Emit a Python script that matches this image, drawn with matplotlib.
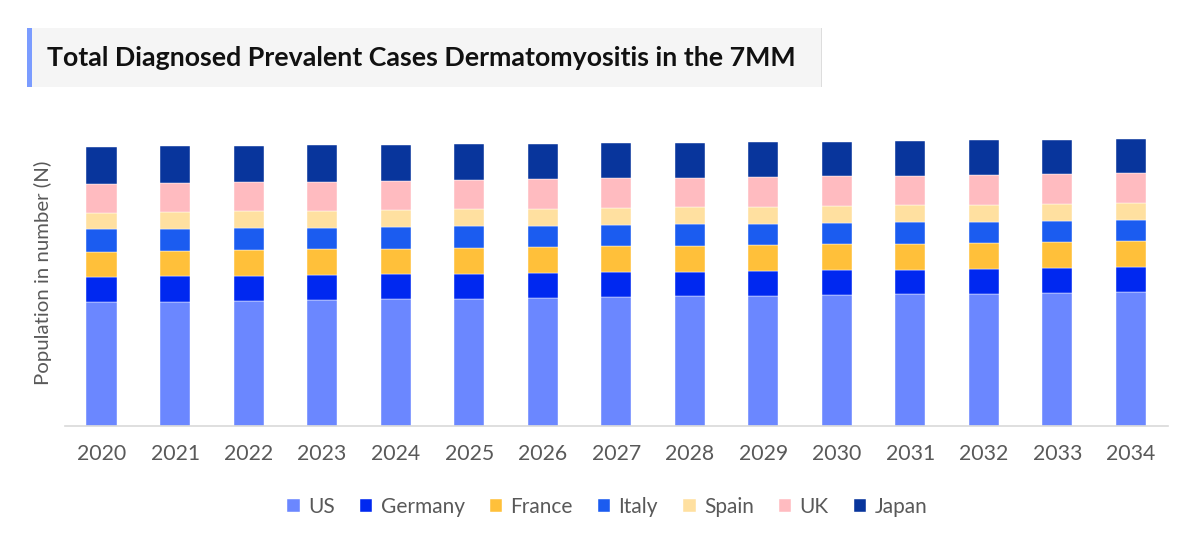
import numpy as np
import matplotlib
matplotlib.use('Agg')
import matplotlib.pyplot as plt
from matplotlib.patches import Rectangle

plt.rcParams['font.family'] = ['Lato', 'DejaVu Sans']

years = [str(y) for y in range(2020, 2035)]
countries = ['US', 'Germany', 'France', 'Italy', 'Spain', 'UK', 'Japan']

# values (relative units, no y scale shown)
us      = [372, 373, 375, 377, 380, 382, 385, 387, 389, 391, 393, 395, 397, 399, 401]
germany = [75, 76, 76, 76, 75, 75, 74, 74, 74, 74, 74, 74, 73, 74, 75]
france  = [76, 76, 77, 77, 77, 77, 77, 78, 78, 78, 78, 78, 79, 79, 78]
italy   = [67, 66, 65, 65, 65, 65, 65, 64, 65, 64, 65, 64, 64, 64, 63]
spain   = [50, 51, 51, 51, 50, 51, 51, 51, 50, 51, 50, 51, 51, 50, 51]
uk      = [85, 85, 86, 86, 88, 87, 87, 88, 88, 88, 88, 88, 89, 89, 90]
japan   = [110, 111, 110, 110, 108, 108, 107, 106, 105, 104, 104, 104, 103, 103, 101]

series = [us, germany, france, italy, spain, uk, japan]
colors = ['#6b87ff', '#0028f0', '#ffc03a', '#1b5cf0', '#ffe0a0', '#ffbbc0', '#08359c']

fig = plt.figure(figsize=(12, 5.42), dpi=100)
ax = fig.add_axes([0.054, 0.214, 0.919, 0.565])

x = np.arange(len(years))
bottom = np.zeros(len(years))
for name, vals, col in zip(countries, series, colors):
    ax.bar(x, vals, 0.41, bottom=bottom, color=col, label=name,
           edgecolor='white', linewidth=0.3)
    bottom += np.array(vals)

ax.set_xlim(-0.5, len(years) - 0.5)
ax.set_ylim(0, 918)
ax.set_xticks(x)
ax.set_xticklabels(years, fontsize=15.3, color='#595959')
ax.tick_params(axis='x', length=0, pad=13)
ax.set_yticks([])
for s in ['top', 'right', 'left']:
    ax.spines[s].set_visible(False)
ax.spines['bottom'].set_color('#d9d9d9')
ax.spines['bottom'].set_linewidth(1.2)
ax.set_ylabel('Population in number (N)', fontsize=14.7, color='#595959', labelpad=9)

# title box
fig.patches.append(Rectangle((27 / 1200, 1 - 87 / 542), 795 / 1200, 59 / 542,
                             transform=fig.transFigure, facecolor='#f5f5f5',
                             edgecolor='none', zorder=0))
fig.patches.append(Rectangle((27 / 1200, 1 - 87 / 542), 5 / 1200, 59 / 542,
                             transform=fig.transFigure, facecolor='#7b9cff',
                             edgecolor='none', zorder=1))
fig.patches.append(Rectangle((821 / 1200, 1 - 87 / 542), 1 / 1200, 59 / 542,
                             transform=fig.transFigure, facecolor='#dddddd',
                             edgecolor='none', zorder=1))
fig.text(47 / 1200, 1 - 58 / 542, 'Total Diagnosed Prevalent Cases Dermatomyositis in the 7MM',
         fontsize=19.3, fontweight='bold', color='#111111', va='center', ha='left')

handles, labels = ax.get_legend_handles_labels()
fig.legend(handles, labels, loc='center', bbox_to_anchor=(0.506, 1 - 507 / 542),
           ncol=7, frameon=False, fontsize=15, handlelength=0.6, handleheight=0.6,
           handletextpad=0.4, columnspacing=1.2, labelcolor='#595959')

fig.savefig('out.png', dpi=100)
